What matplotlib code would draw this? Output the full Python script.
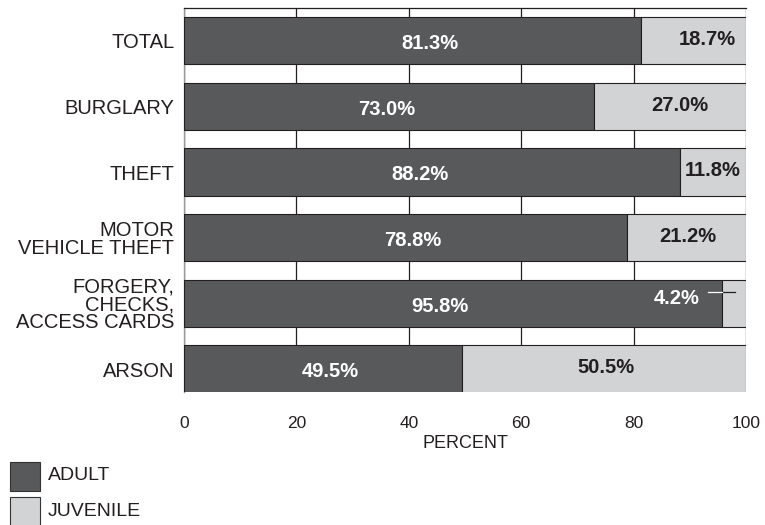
import numpy as np
import matplotlib.pyplot as plt
from matplotlib.patches import Rectangle

plt.rcParams['font.family'] = ['Liberation Sans', 'DejaVu Sans']

# data
categories = ['TOTAL', 'BURGLARY', 'THEFT', 'MOTOR\nVEHICLE THEFT',
              'FORGERY,\nCHECKS,\nACCESS CARDS', 'ARSON']
adult = [81.3, 73.0, 88.2, 78.8, 95.8, 49.5]
juvenile = [18.7, 27.0, 11.8, 21.2, 4.2, 50.5]

# where the labels sit (hand placed in the original, in percent units)
adult_label_x = [43.8, 36.1, 42.0, 40.7, 45.6, 26.0]
juv_label_x = [93.1, 88.3, 94.1, 89.7, 87.0, 75.1]

dark = '#58595b'
light = '#d1d3d4'
ink = '#231f20'

fig = plt.figure(figsize=(7.65, 5.25), dpi=100)
ax = fig.add_axes([184/765, 1-392/525, (746-184)/765, (392-8)/525])

y = np.arange(len(categories))
ax.barh(y, adult, height=0.72, color=dark, edgecolor=ink, linewidth=0.8, zorder=3)
ax.barh(y, juvenile, left=adult, height=0.72, color=light, edgecolor=ink, linewidth=0.8, zorder=3)

for i in range(len(categories)):
    ax.text(adult_label_x[i], y[i] + 0.04, f'{adult[i]:.1f}%', color='white', fontsize=14.5,
            fontweight='bold', ha='center', va='center', zorder=5)
    if juvenile[i] < 6:
        # small slice: label sits inside the adult bar with a leader line
        ax.text(91.8, y[i] - 0.07, f'{juvenile[i]:.1f}%', color='white', fontsize=14.5,
                fontweight='bold', ha='right', va='center', zorder=5)
        ax.plot([adult[i], 98.0], [y[i] - 0.17, y[i] - 0.17],
                color=ink, linewidth=0.9, zorder=6)
        ax.plot([93.2, adult[i]], [y[i] - 0.17, y[i] - 0.17],
                color='white', linewidth=0.9, zorder=6)
    else:
        ax.text(juv_label_x[i], y[i] - 0.02, f'{juvenile[i]:.1f}%', color=ink,
                fontsize=14.5, fontweight='bold', ha='center', va='center', zorder=5)

ax.set_xlim(0, 100)
ax.set_ylim(5.35, -0.5)
ax.set_yticks(y)
ax.set_yticklabels(categories, fontsize=14.5, linespacing=0.92)
ax.set_xticks([0, 20, 40, 60, 80, 100])
ax.tick_params(axis='both', length=0, colors=ink)
ax.tick_params(axis='x', pad=17, labelsize=12.5)
ax.tick_params(axis='y', pad=7)
ax.set_xlabel('PERCENT', fontsize=13, color=ink, labelpad=3)

ax.grid(axis='x', color=ink, linewidth=0.9, zorder=0)
for s in ['right', 'bottom']:
    ax.spines[s].set_visible(False)
ax.spines['top'].set_color(ink)
ax.spines['top'].set_linewidth(0.9)
ax.spines['left'].set_color('#999999')
ax.spines['left'].set_linewidth(1.0)

# legend
legend_items = [('ADULT', dark), ('JUVENILE', light)]
for k, (label, col) in enumerate(legend_items):
    y0 = 1 - (491 + 35*k)/525
    fig.patches.append(Rectangle((10/765, y0), 30/765, 29/525, transform=fig.transFigure,
                                 facecolor=col, edgecolor='#333333', linewidth=0.8))
    fig.text(48/765, y0 + 15/525, label, fontsize=14, color=ink, va='center', ha='left')

fig.savefig('out.png', dpi=100)
